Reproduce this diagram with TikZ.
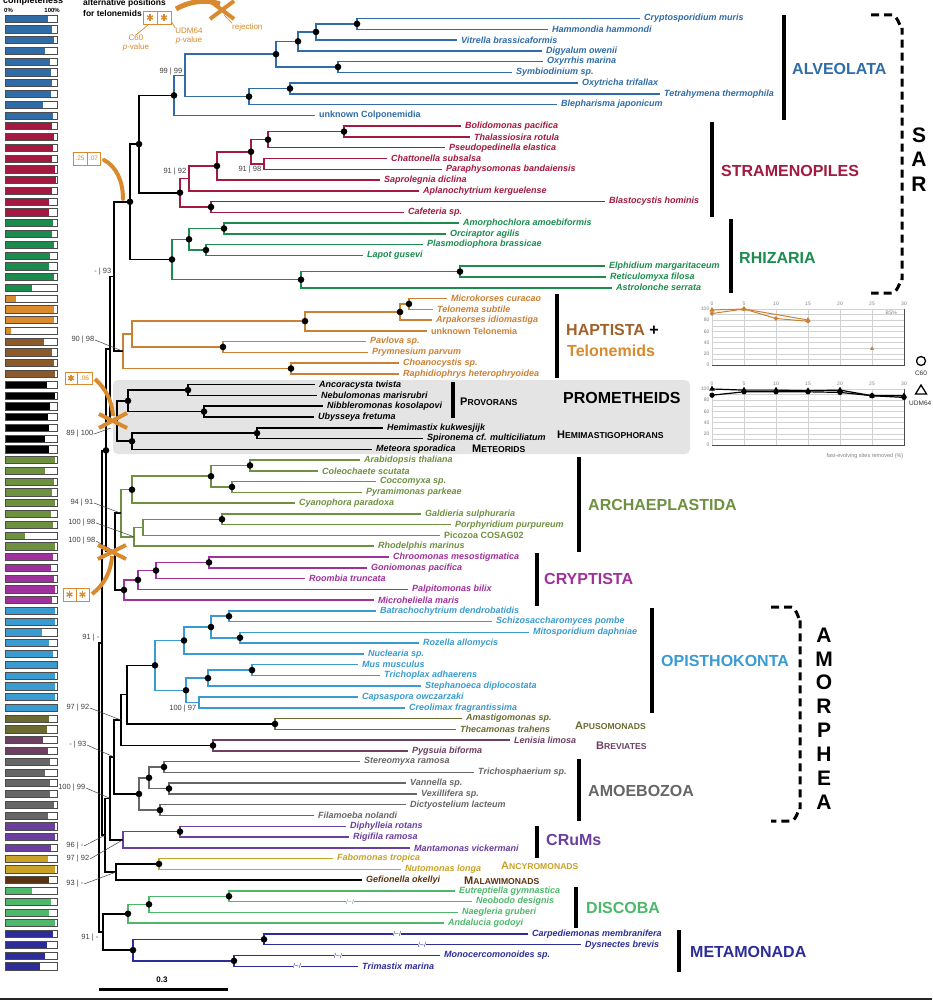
\documentclass[tikz,border=0pt]{standalone}
\usepackage{fontspec}
\setmainfont{Liberation Sans}
\usetikzlibrary{calc,plotmarks}
\definecolor{calv}{HTML}{2F6CA8}
\definecolor{cstr}{HTML}{A3193F}
\definecolor{crhz}{HTML}{1B8C4E}
\definecolor{chap}{HTML}{CC8033}
\definecolor{chaplab}{HTML}{A0602A}
\definecolor{ctel}{HTML}{D98A2E}
\definecolor{carc}{HTML}{6E9140}
\definecolor{ccry}{HTML}{A0309B}
\definecolor{copi}{HTML}{3A9BD0}
\definecolor{capu}{HTML}{6B6B30}
\definecolor{cbrv}{HTML}{6E3F62}
\definecolor{camz}{HTML}{666666}
\definecolor{ccrm}{HTML}{6A3FA0}
\definecolor{canc}{HTML}{C9A227}
\definecolor{cmal}{HTML}{5C3310}
\definecolor{cdis}{HTML}{4DB86A}
\definecolor{cmet}{HTML}{2D2D99}
\definecolor{cann}{HTML}{D98A2E}
\definecolor{csup}{HTML}{404040}
\definecolor{cbox}{HTML}{E4E4E4}
\definecolor{cbhap}{HTML}{8C5A2B}
\newcommand\LY[1]{(18.5+(#1-1)*10.77)}
\newcommand\leaffont{\fontsize{9}{9}\selectfont\bfseries\itshape}
\newcommand\leaffontu{\fontsize{9}{9}\selectfont\bfseries}
\newcommand\suppfont{\fontsize{7.5}{7.5}\selectfont}
\newcommand\cladefont{\fontsize{16}{16}\selectfont\bfseries}
\newcommand\brkfont{\fontsize{7}{7}\selectfont}
\newcommand\smc[2]{{\fontsize{11}{11}\selectfont #1}{\fontsize{8.6}{8.6}\selectfont #2}}
\begin{document}
\begin{tikzpicture}[x=1pt,y=-1pt,
 leaf/.style={anchor=west,text=#1,font=\leaffont,inner xsep=4pt,inner ysep=0pt},
 leafu/.style={anchor=west,text=#1,font=\leaffontu,inner xsep=4pt,inner ysep=0pt},
 br/.style={draw=#1,line width=1.5pt},
 bk/.style={draw=black,line width=1.7pt},
 supp/.style={font=\suppfont,text=csup,inner sep=0.5pt},
 lead/.style={draw=csup,line width=0.5pt},
 clab/.style={anchor=west,font=\cladefont,text=#1,inner sep=0pt},
 sclab/.style={anchor=west,text=#1,inner sep=0pt,font=\bfseries},
 cbar/.style={line width=4pt,draw=black},
 annl/.style={draw=cann,line width=4pt},
 brk/.style={fill=white,inner sep=0.4pt,text=#1,font=\brkfont},
 tick/.style={font=\fontsize{5}{5}\selectfont,text=gray,inner sep=0.5pt},
 orstar/.pic={\foreach \a in {90,30,150} \draw[cann,line width=1.4pt] (\a:3.3) -- (\a+180:3.3);}
]
\useasboundingbox (0,0) rectangle (932,1000);
\fill[white] (0,0) rectangle (932,1000);
% grey box for prometheids
\fill[cbox,rounded corners=5pt] (113,380) rectangle (690,454);

% ---------- internal nodes ----------
\coordinate (cr) at (357,{\LY{1.5}});
\coordinate (b1) at (316,{\LY{2.25}});
\coordinate (a1) at (298,{\LY{3.125}});
\coordinate (di) at (338,{\LY{5.5}});
\coordinate (y1) at (276,{\LY{4.3125}});
\coordinate (ci) at (290,{\LY{7.5}});
\coordinate (c1) at (249,{\LY{8.25}});
\coordinate (x1) at (185,{\LY{6.28}});
\coordinate (nalv) at (174,{\LY{8.14}});
\coordinate (bo) at (344,{\LY{11.5}});
\coordinate (s3) at (268,{\LY{12.25}});
\coordinate (ch) at (264,{\LY{14.5}});
\coordinate (s4) at (251,{\LY{13.375}});
\coordinate (s5) at (217,{\LY{14.69}});
\coordinate (s6) at (189,{\LY{15.84}});
\coordinate (bc) at (211,{\LY{18.5}});
\coordinate (nstr) at (180,{\LY{17.17}});
\coordinate (nas) at (139,{\LY{12.66}});
\coordinate (am) at (224,{\LY{20.5}});
\coordinate (pl) at (206,{\LY{22.5}});
\coordinate (r2) at (189,{\LY{21.5}});
\coordinate (el) at (460,{\LY{24.5}});
\coordinate (r3) at (301,{\LY{25.25}});
\coordinate (nrh) at (172,{\LY{23.375}});
\coordinate (nsar) at (130,{\LY{18.02}});
\coordinate (mk) at (409,{\LY{27.5}});
\coordinate (tl) at (400,{\LY{28.25}});
\coordinate (te) at (305,{\LY{29.1}});
\coordinate (pv) at (223,{\LY{31.5}});
\coordinate (hp) at (132,{\LY{30.3}});
\coordinate (cc) at (291,{\LY{33.5}});
\coordinate (ht) at (123,{\LY{31.9}});
\coordinate (n93) at (114,{\LY{24.96}});
\coordinate (an) at (188,{\LY{35.5}});
\coordinate (nu) at (204,{\LY{37.5}});
\coordinate (prov) at (128,{\LY{36.5}});
\coordinate (hs) at (257,{\LY{39.5}});
\coordinate (hm) at (132,{\LY{40.25}});
\coordinate (prom) at (117,{\LY{38.375}});
\coordinate (nP) at (110,{\LY{31.67}});
\coordinate (ar) at (250,{\LY{42.5}});
\coordinate (cp) at (232,{\LY{44.5}});
\coordinate (vp) at (211,{\LY{43.5}});
\coordinate (gr) at (132,{\LY{44.75}});
\coordinate (gp) at (222,{\LY{47.5}});
\coordinate (rp) at (143,{\LY{48.25}});
\coordinate (rr) at (134,{\LY{49.125}});
\coordinate (ap) at (121,{\LY{46.94}});
\coordinate (cg) at (209,{\LY{51.5}});
\coordinate (cr2) at (156,{\LY{52.25}});
\coordinate (cr3) at (138,{\LY{53.125}});
\coordinate (ncry) at (124,{\LY{54.06}});
\coordinate (ac) at (115,{\LY{50.5}});
\coordinate (nD) at (106,{\LY{41.1}});
\coordinate (bs) at (229,{\LY{56.5}});
\coordinate (mr) at (240,{\LY{58.5}});
\coordinate (fu) at (211,{\LY{57.5}});
\coordinate (hol) at (184,{\LY{58.75}});
\coordinate (mt) at (252,{\LY{61.5}});
\coordinate (mts) at (208,{\LY{62.25}});
\coordinate (cc2) at (199,{\LY{64.5}});
\coordinate (hz) at (186,{\LY{63.375}});
\coordinate (nopi) at (155,{\LY{61.06}});
\coordinate (napu) at (275,{\LY{66.5}});
\coordinate (nbrv) at (213,{\LY{68.5}});
\coordinate (ob2) at (127,{\LY{63.78}});
\coordinate (obz) at (121,{\LY{66.14}});
\coordinate (st) at (164,{\LY{70.5}});
\coordinate (vv) at (169,{\LY{72.5}});
\coordinate (a2) at (149,{\LY{71.5}});
\coordinate (df) at (160,{\LY{74.5}});
\coordinate (namz) at (139,{\LY{73}});
\coordinate (amo) at (114,{\LY{69.57}});
\coordinate (dr) at (180,{\LY{76.5}});
\coordinate (crm) at (123,{\LY{77.25}});
\coordinate (amc) at (110,{\LY{73.41}});
\coordinate (nanc) at (159,{\LY{79.5}});
\coordinate (anm) at (116,{\LY{80.25}});
\coordinate (n96) at (105,{\LY{76.83}});
\coordinate (nE) at (102,{\LY{58.97}});
\coordinate (en) at (229,{\LY{82.5}});
\coordinate (dn) at (149,{\LY{83.25}});
\coordinate (ndis) at (128,{\LY{84.125}});
\coordinate (cd) at (264,{\LY{86.5}});
\coordinate (mt2) at (234,{\LY{88.5}});
\coordinate (nmet) at (133,{\LY{87.5}});
\coordinate (DM) at (103,{\LY{85.81}});
\coordinate (root) at (99,{\LY{72.39}});

% ---------- leaves ----------
\node[leaf=calv] (l1) at (640,{\LY{1}}) {Cryptosporidium muris};
\node[leaf=calv] (l2) at (548,{\LY{2}}) {Hammondia hammondi};
\node[leaf=calv] (l3) at (457,{\LY{3}}) {Vitrella brassicaformis};
\node[leaf=calv] (l4) at (542,{\LY{4}}) {Digyalum owenii};
\node[leaf=calv] (l5) at (543,{\LY{5}}) {Oxyrrhis marina};
\node[leaf=calv] (l6) at (512,{\LY{6}}) {Symbiodinium sp.};
\node[leaf=calv] (l7) at (578,{\LY{7}}) {Oxytricha trifallax};
\node[leaf=calv] (l8) at (660,{\LY{8}}) {Tetrahymena thermophila};
\node[leaf=calv] (l9) at (557,{\LY{9}}) {Blepharisma japonicum};
\node[leafu=calv] (l10) at (315,{\LY{10}}) {unknown Colponemidia};
\node[leaf=cstr] (l11) at (461,{\LY{11}}) {Bolidomonas pacifica};
\node[leaf=cstr] (l12) at (470,{\LY{12}}) {Thalassiosira rotula};
\node[leaf=cstr] (l13) at (445,{\LY{13}}) {Pseudopedinella elastica};
\node[leaf=cstr] (l14) at (387,{\LY{14}}) {Chattonella subsalsa};
\node[leaf=cstr] (l15) at (442,{\LY{15}}) {Paraphysomonas bandaiensis};
\node[leaf=cstr] (l16) at (380,{\LY{16}}) {Saprolegnia diclina};
\node[leaf=cstr] (l17) at (419,{\LY{17}}) {Aplanochytrium kerguelense};
\node[leaf=cstr] (l18) at (605,{\LY{18}}) {Blastocystis hominis};
\node[leaf=cstr] (l19) at (404,{\LY{19}}) {Cafeteria sp.};
\node[leaf=crhz] (l20) at (459,{\LY{20}}) {Amorphochlora amoebiformis};
\node[leaf=crhz] (l21) at (446,{\LY{21}}) {Orciraptor agilis};
\node[leaf=crhz] (l22) at (423,{\LY{22}}) {Plasmodiophora brassicae};
\node[leaf=crhz] (l23) at (363,{\LY{23}}) {Lapot gusevi};
\node[leaf=crhz] (l24) at (605,{\LY{24}}) {Elphidium margaritaceum};
\node[leaf=crhz] (l25) at (606,{\LY{25}}) {Reticulomyxa filosa};
\node[leaf=crhz] (l26) at (612,{\LY{26}}) {Astrolonche serrata};
\node[leaf=chap] (l27) at (447,{\LY{27}}) {Microkorses curacao};
\node[leaf=chap] (l28) at (433,{\LY{28}}) {Telonema subtile};
\node[leaf=chap] (l29) at (432,{\LY{29}}) {Arpakorses idiomastiga};
\node[leafu=chap] (l30) at (427,{\LY{30}}) {unknown Telonemia};
\node[leaf=chap] (l31) at (366,{\LY{31}}) {Pavlova sp.};
\node[leaf=chap] (l32) at (368,{\LY{32}}) {Prymnesium parvum};
\node[leaf=chap] (l33) at (399,{\LY{33}}) {Choanocystis sp.};
\node[leaf=chap] (l34) at (399,{\LY{34}}) {Raphidiophrys heterophryoidea};
\node[leaf=black] (l35) at (315,{\LY{35}}) {Ancoracysta twista};
\node[leaf=black] (l36) at (317,{\LY{36}}) {Nebulomonas marisrubri};
\node[leaf=black] (l37) at (323,{\LY{37}}) {Nibbleromonas kosolapovi};
\node[leaf=black] (l38) at (314,{\LY{38}}) {Ubysseya fretuma};
\node[leaf=black] (l39) at (383,{\LY{39}}) {Hemimastix kukwesjijk};
\node[leaf=black] (l40) at (423,{\LY{40}}) {Spironema cf. multiciliatum};
\node[leaf=black] (l41) at (372,{\LY{41}}) {Meteora sporadica};
\node[leaf=carc] (l42) at (360,{\LY{42}}) {Arabidopsis thaliana};
\node[leaf=carc] (l43) at (318,{\LY{43}}) {Coleochaete scutata};
\node[leaf=carc] (l44) at (376,{\LY{44}}) {Coccomyxa sp.};
\node[leaf=carc] (l45) at (362,{\LY{45}}) {Pyramimonas parkeae};
\node[leaf=carc] (l46) at (295,{\LY{46}}) {Cyanophora paradoxa};
\node[leaf=carc] (l47) at (421,{\LY{47}}) {Galdieria sulphuraria};
\node[leaf=carc] (l48) at (451,{\LY{48}}) {Porphyridium purpureum};
\node[leafu=carc] (l49) at (440,{\LY{49}}) {Picozoa COSAG02};
\node[leaf=carc] (l50) at (374,{\LY{50}}) {Rhodelphis marinus};
\node[leaf=ccry] (l51) at (389,{\LY{51}}) {Chroomonas mesostigmatica};
\node[leaf=ccry] (l52) at (367,{\LY{52}}) {Goniomonas pacifica};
\node[leaf=ccry] (l53) at (305,{\LY{53}}) {Roombia truncata};
\node[leaf=ccry] (l54) at (408,{\LY{54}}) {Palpitomonas bilix};
\node[leaf=ccry] (l55) at (374,{\LY{55}}) {Microheliella maris};
\node[leaf=copi] (l56) at (376,{\LY{56}}) {Batrachochytrium dendrobatidis};
\node[leaf=copi] (l57) at (492,{\LY{57}}) {Schizosaccharomyces pombe};
\node[leaf=copi] (l58) at (529,{\LY{58}}) {Mitosporidium daphniae};
\node[leaf=copi] (l59) at (419,{\LY{59}}) {Rozella allomycis};
\node[leaf=copi] (l60) at (364,{\LY{60}}) {Nuclearia sp.};
\node[leaf=copi] (l61) at (358,{\LY{61}}) {Mus musculus};
\node[leaf=copi] (l62) at (380,{\LY{62}}) {Trichoplax adhaerens};
\node[leaf=copi] (l63) at (421,{\LY{63}}) {Stephanoeca diplocostata};
\node[leaf=copi] (l64) at (358,{\LY{64}}) {Capsaspora owczarzaki};
\node[leaf=copi] (l65) at (405,{\LY{65}}) {Creolimax fragrantissima};
\node[leaf=capu] (l66) at (462,{\LY{66}}) {Amastigomonas sp.};
\node[leaf=capu] (l67) at (456,{\LY{67}}) {Thecamonas trahens};
\node[leaf=cbrv] (l68) at (510,{\LY{68}}) {Lenisia limosa};
\node[leaf=cbrv] (l69) at (408,{\LY{69}}) {Pygsuia biforma};
\node[leaf=camz] (l70) at (360,{\LY{70}}) {Stereomyxa ramosa};
\node[leaf=camz] (l71) at (474,{\LY{71}}) {Trichosphaerium sp.};
\node[leaf=camz] (l72) at (406,{\LY{72}}) {Vannella sp.};
\node[leaf=camz] (l73) at (417,{\LY{73}}) {Vexillifera sp.};
\node[leaf=camz] (l74) at (406,{\LY{74}}) {Dictyostelium lacteum};
\node[leaf=camz] (l75) at (314,{\LY{75}}) {Filamoeba nolandi};
\node[leaf=ccrm] (l76) at (346,{\LY{76}}) {Diphylleia rotans};
\node[leaf=ccrm] (l77) at (349,{\LY{77}}) {Rigifila ramosa};
\node[leaf=ccrm] (l78) at (410,{\LY{78}}) {Mantamonas vickermani};
\node[leaf=canc] (l79) at (333,{\LY{79}}) {Fabomonas tropica};
\node[leaf=canc] (l80) at (401,{\LY{80}}) {Nutomonas longa};
\node[leaf=cmal] (l81) at (362,{\LY{81}}) {Gefionella okellyi};
\node[leaf=cdis] (l82) at (455,{\LY{82}}) {Eutreptiella gymnastica};
\node[leaf=cdis] (l83) at (472,{\LY{83}}) {Neobodo designis};
\node[leaf=cdis] (l84) at (458,{\LY{84}}) {Naegleria gruberi};
\node[leaf=cdis] (l85) at (444,{\LY{85}}) {Andalucia godoyi};
\node[leaf=cmet] (l86) at (528,{\LY{86}}) {Carpediemonas membranifera};
\node[leaf=cmet] (l87) at (581,{\LY{87}}) {Dysnectes brevis};
\node[leaf=cmet] (l88) at (440,{\LY{88}}) {Monocercomonoides sp.};
\node[leaf=cmet] (l89) at (358,{\LY{89}}) {Trimastix marina};

% ---------- branches ----------
\foreach \p/\q in {cr/l1,cr/l2,b1/cr,b1/l3,a1/b1,a1/l4,di/l5,di/l6,y1/a1,y1/di,ci/l7,ci/l8,c1/ci,c1/l9,x1/y1,x1/c1,nalv/x1,nalv/l10}
  \draw[br=calv] (\p) |- (\q);
\foreach \p/\q in {bo/l11,bo/l12,s3/bo,s3/l13,ch/l14,ch/l15,s4/s3,s4/ch,s5/s4,s5/l16,s6/s5,s6/l17,bc/l18,bc/l19,nstr/s6,nstr/bc}
  \draw[br=cstr] (\p) |- (\q);
\foreach \p/\q in {am/l20,am/l21,pl/l22,pl/l23,r2/am,r2/pl,el/l24,el/l25,r3/el,r3/l26,nrh/r2,nrh/r3}
  \draw[br=crhz] (\p) |- (\q);
\foreach \p/\q in {mk/l27,mk/l28,tl/mk,tl/l29,te/tl,te/l30,pv/l31,pv/l32,hp/te,hp/pv,cc/l33,cc/l34,ht/hp,ht/cc}
  \draw[br=chap] (\p) |- (\q);
\foreach \p/\q in {an/l35,an/l36,nu/l37,nu/l38,prov/an,prov/nu,hs/l39,hs/l40,hm/hs,hm/l41,prom/prov,prom/hm}
  \draw[bk,line width=1.5pt] (\p) |- (\q);
\foreach \p/\q in {ar/l42,ar/l43,cp/l44,cp/l45,vp/ar,vp/cp,gr/vp,gr/l46,gp/l47,gp/l48,rp/gp,rp/l49,rr/rp,rr/l50,ap/gr,ap/rr}
  \draw[br=carc] (\p) |- (\q);
\foreach \p/\q in {cg/l51,cg/l52,cr2/cg,cr2/l53,cr3/cr2,cr3/l54,ncry/cr3,ncry/l55}
  \draw[br=ccry] (\p) |- (\q);
\foreach \p/\q in {bs/l56,bs/l57,mr/l58,mr/l59,fu/bs,fu/mr,hol/fu,hol/l60,mt/l61,mt/l62,mts/mt,mts/l63,cc2/l64,cc2/l65,hz/mts,hz/cc2,nopi/hol,nopi/hz}
  \draw[br=copi] (\p) |- (\q);
\foreach \p/\q in {napu/l66,napu/l67} \draw[br=capu] (\p) |- (\q);
\foreach \p/\q in {nbrv/l68,nbrv/l69} \draw[br=cbrv] (\p) |- (\q);
\foreach \p/\q in {st/l70,st/l71,vv/l72,vv/l73,a2/st,a2/vv,df/l74,df/l75,namz/a2,namz/df}
  \draw[br=camz] (\p) |- (\q);
\foreach \p/\q in {dr/l76,dr/l77,crm/dr,crm/l78} \draw[br=ccrm] (\p) |- (\q);
\foreach \p/\q in {nanc/l79,nanc/l80} \draw[br=canc] (\p) |- (\q);
\foreach \p/\q in {en/l82,en/l83,dn/en,dn/l84,ndis/dn,ndis/l85} \draw[br=cdis] (\p) |- (\q);
\foreach \p/\q in {cd/l86,cd/l87,mt2/l88,mt2/l89,nmet/cd,nmet/mt2} \draw[br=cmet] (\p) |- (\q);
% backbone
\foreach \p/\q in {nas/nalv,nas/nstr,nsar/nas,nsar/nrh,n93/nsar,n93/ht,nP/n93,nP/prom,ac/ap,ac/ncry,nD/nP,nD/ac,
  ob2/nopi,ob2/napu,obz/ob2,obz/nbrv,amo/obz,amo/namz,amc/amo,amc/crm,anm/nanc,anm/l81,n96/amc,n96/anm,nE/nD,nE/n96,
  DM/ndis,DM/nmet,root/nE,root/DM}
  \draw[bk] (\p) |- (\q);

% branch breaks
\node[brk=cdis] at (350,{\LY{83}}) {/\textasciitilde/};
\node[brk=cmet] at (397,{\LY{86}}) {/\textasciitilde/};
\node[brk=cmet] at (422,{\LY{87}}) {/\textasciitilde/};
\node[brk=cmet] at (338,{\LY{88}}) {/\textasciitilde/};
\node[brk=cmet] at (297,{\LY{89}}) {/\textasciitilde/};

% ---------- dots ----------
\foreach \n in {cr,b1,a1,di,y1,ci,c1,nalv,bo,s3,s4,s5,bc,nstr,nas,am,pl,r2,el,r3,nrh,nsar,mk,tl,te,pv,cc,
  an,nu,prov,hs,hm,ar,cp,vp,gr,gp,cg,cr2,cr3,ncry,nD,bs,mr,fu,hol,mt,mts,hz,nopi,napu,nbrv,st,vv,a2,df,namz,
  dr,nanc,en,dn,ndis,cd,mt2,nmet}
  \fill[black] (\n) circle (3.3);

% ---------- support values ----------
\node[supp,anchor=east] at (183,72) {99 | 99};
\node[supp,anchor=east] at (187,172) {91 | 92};
\node[supp,anchor=east] at (262,170) {91 | 98};
\node[supp,anchor=east] at (112,272) {- | 93};
\node[supp,anchor=east] (s1) at (95,340) {90 | 98};
\draw[lead] (s1.east) -- (ht);
\node[supp,anchor=east] (s2) at (94,434) {89 | 100};
\coordinate (q89) at (111,428);
\draw[lead] (s2.east) -- (q89);
\node[supp,anchor=east] (s3l) at (94,503) {94 | 91};
\draw[lead] (s3l.east) -- (ap);
\node[supp,anchor=east] (s4l) at (96,523) {100 | 98};
\draw[lead] (s4l.east) -- (rr);
\node[supp,anchor=east] (s5l) at (96,541) {100 | 98};
\draw[lead] (s5l.east) -- (ac);
\node[supp,anchor=east] at (100,638) {91 | -};
\node[supp,anchor=east] at (197,709) {100 | 97};
\node[supp,anchor=east] (s6l) at (90,708) {97 | 92};
\draw[lead] (s6l.east) -- (obz);
\node[supp,anchor=east] (s7l) at (87,745) {- | 93};
\draw[lead] (s7l.east) -- (amo);
\node[supp,anchor=east] (s8l) at (86,788) {100 | 99};
\draw[lead] (s8l.east) -- (amc);
\node[supp,anchor=east] (s9l) at (84,846) {96 | -};
\draw[lead] (s9l.east) -- (n96);
\node[supp,anchor=east] (s10l) at (90,859) {97 | 92};
\draw[lead] (s10l.east) -- (crm);
\node[supp,anchor=east] (s11l) at (84,884) {93 | -};
\draw[lead] (s11l.east) -- (anm);
\node[supp,anchor=east] at (99,938) {91 | -};

% ---------- clade labels ----------
\draw[cbar] (784,15) -- (784,120);
\node[clab=calv] at (792,69) {ALVEOLATA};
\draw[cbar] (712,122) -- (712,217);
\node[clab=cstr] at (721,171) {STRAMENOPILES};
\draw[cbar] (731,219) -- (731,293);
\node[clab=crhz] at (739,258) {RHIZARIA};
\draw[line width=3pt,dash pattern=on 8pt off 5pt] (871,15) -- (892,15) to[out=0,in=-90] (902,28) -- (902,280) to[out=90,in=0] (892,293) -- (871,293);
\foreach \t/\yy in {S/135,A/159,R/184}
  \node[font=\fontsize{21}{21}\selectfont\bfseries,inner sep=0] at (919,\yy) {\t};
\draw[cbar] (557,294) -- (557,378);
\node[clab=chaplab] at (566,330) {HAPTISTA \textcolor{black}{+}};
\node[clab=ctel] at (567,351) {Telonemids};
\node[clab=black] at (563,398) {PROMETHEIDS};
\draw[cbar] (453,382) -- (453,418);
\node[sclab=black] at (460,402) {\smc{P}{ROVORANS}};
\node[sclab=black] at (557,435) {\smc{H}{EMIMASTIGOPHORANS}};
\node[sclab=black] at (472,449) {\smc{M}{ETEORIDS}};
\draw[cbar] (579,457) -- (579,552);
\node[clab=carc] at (588,505) {ARCHAEPLASTIDA};
\draw[cbar] (537,553) -- (537,606);
\node[clab=ccry] at (544,579) {CRYPTISTA};
\draw[cbar] (652,608) -- (652,713);
\node[clab=copi] at (661,661) {OPISTHOKONTA};
\node[sclab=capu] at (575,726) {\smc{A}{PUSOMONADS}};
\node[sclab=cbrv] at (596,746) {\smc{B}{REVIATES}};
\draw[cbar] (579,759) -- (579,821);
\node[clab=camz] at (588,791) {AMOEBOZOA};
\draw[line width=3pt,dash pattern=on 8pt off 5pt] (771,607) -- (791,607) to[out=0,in=-90] (800,619) -- (800,809) to[out=90,in=0] (791,821) -- (771,821);
\foreach \t [count=\k from 0] in {A,M,O,R,P,H,E,A}
  \node[font=\fontsize{21}{21}\selectfont\bfseries,inner sep=0] at (824,{635+\k*23.86}) {\t};
\draw[cbar] (537,826) -- (537,858);
\node[clab=ccrm] at (546,840) {CRuMs};
\node[sclab=canc] at (501,865.5) {\smc{A}{NCYROMONADS}};
\node[sclab=cmal] at (464,881) {\smc{M}{ALAWIMONADS}};
\draw[cbar] (576,887) -- (576,928);
\node[clab=cdis] at (586,908) {DISCOBA};
\draw[cbar] (679,930) -- (679,972);
\node[clab=cmet] at (690,952) {METAMONADA};

% ---------- scale bar ----------
\draw[line width=3pt] (99,989) -- (228,989);
\node[font=\fontsize{8}{8}\selectfont\bfseries,inner sep=0] at (162,980) {0.3};
\draw[line width=2pt,black!85] (0,999) -- (932,999);

% ---------- completeness bars ----------
\node[font=\fontsize{9}{9}\selectfont\bfseries,anchor=west,inner sep=0] at (3,1.5) {completeness};
\node[font=\fontsize{6}{6}\selectfont\bfseries,anchor=west,inner sep=0] at (4,10) {0\%};
\node[font=\fontsize{6}{6}\selectfont\bfseries,anchor=east,inner sep=0] at (60,10) {100\%};
\foreach \i/\f/\kol in {1/.83/calv,2/.91/calv,3/.94/calv,4/.76/calv,5/.86/calv,6/.89/calv,7/.91/calv,8/.89/calv,9/.73/calv,10/.92/calv,
 11/.9/cstr,12/.94/cstr,13/.93/cstr,14/.9/cstr,15/.97/cstr,16/.99/cstr,17/.91/cstr,18/.84/cstr,19/.85/cstr,
 20/.92/crhz,21/.9/crhz,22/.94/crhz,23/.86/crhz,24/.85/crhz,25/.94/crhz,26/.51/crhz,
 27/.22/ctel,28/.94/ctel,29/.94/ctel,30/.12/ctel,31/.75/cbhap,32/.91/cbhap,33/.94/cbhap,34/.96/cbhap,
 35/.8/black,36/.96/black,37/.87/black,38/.83/black,39/.84/black,40/.76/black,41/.85/black,
 42/.97/carc,43/.76/carc,44/.94/carc,45/.91/carc,46/.96/carc,47/.89/carc,48/.92/carc,49/.38/carc,50/.96/carc,
 51/.92/ccry,52/.89/ccry,53/.94/ccry,54/.96/ccry,55/.91/ccry,
 56/.97/copi,57/.97/copi,58/.72/copi,59/.85/copi,60/.92/copi,61/1/copi,62/.96/copi,63/.96/copi,64/.96/copi,65/1/copi,
 66/.85/capu,67/.8/capu,68/.73/cbrv,69/.83/cbrv,
 70/.87/camz,71/.76/camz,72/.86/camz,73/.86/camz,74/.94/camz,75/.83/camz,
 76/.97/ccrm,77/.97/ccrm,78/.89/ccrm,79/.83/canc,80/.96/canc,81/.85/cmal,
 82/.51/cdis,83/.89/cdis,84/.84/cdis,85/.96/cdis,86/.92/cmet,87/.8/cmet,88/.76/cmet,89/.67/cmet}
{
  \fill[\kol] (5,{\LY{\i}-3.6}) rectangle ({5+52*\f},{\LY{\i}+3.6});
  \draw[black!70,line width=0.6pt] (5,{\LY{\i}-3.6}) rectangle (57,{\LY{\i}+3.6});
}

% ---------- legend for telonemid positions ----------
\node[font=\fontsize{8.5}{9}\selectfont\bfseries,anchor=west,inner sep=0] at (83,3.5) {alternative positions};
\node[font=\fontsize{8.5}{9}\selectfont\bfseries,anchor=west,inner sep=0] at (83,13) {for telonemids};
\draw[cann,line width=0.9pt] (143,11) rectangle (171,24) (157,11) -- (157,24);
\pic at (150,17.5) {orstar};
\pic at (164,17.5) {orstar};
\node[text=cann,font=\fontsize{8}{8.5}\selectfont,align=center,inner sep=0] (c60l) at (136,43) {C60\\\textit{p}-value};
\node[text=cann,font=\fontsize{8}{8.5}\selectfont,align=center,inner sep=0] (udml) at (189,36) {UDM64\\\textit{p}-value};
\draw[cann,line width=0.7pt] (148,25) -- (c60l.north);
\draw[cann,line width=0.7pt] (171,21) -- (udml.north west);
\draw[annl,line width=5pt] (176,9) .. controls (190,1) and (206,-1) .. (220,4);
\draw[annl] (210,1) -- (234,19) (210,19) -- (234,1);
\node[text=cann,font=\fontsize{8}{8}\selectfont,anchor=west,inner sep=0] (rejl) at (232,27) {rejection};
\draw[cann,line width=0.7pt] (224,15) -- (rejl.north west);

% ---------- annotations on tree ----------
\draw[cann,line width=0.8pt] (73,152) rectangle (100,165) (87,152) -- (87,165);
\node[text=cann,font=\fontsize{6.5}{6.5}\selectfont,inner sep=0] at (80,158.5) {.25};
\node[text=cann,font=\fontsize{6.5}{6.5}\selectfont,inner sep=0] at (93.5,158.5) {.07};
\draw[annl,line cap=round] (104,160) .. controls (117,167) and (123,182) .. (123,199);

\draw[cann,line width=0.8pt] (65,372) rectangle (92,384) (77,372) -- (77,384);
\pic at (71,378) {orstar};
\node[text=cann,font=\fontsize{6.5}{6.5}\selectfont,inner sep=0] at (84.5,378) {.06};
\draw[annl] (95,379) .. controls (105,388) and (112,400) .. (113,416);
\draw[annl] (99,414) -- (127,428) (99,428) -- (127,413);

\draw[cann,line width=0.8pt] (63,588) rectangle (89,601) (76,588) -- (76,601);
\pic at (69.5,594.5) {orstar};
\pic at (82.5,594.5) {orstar};
\draw[annl] (92,594) .. controls (104,585) and (111,572) .. (112,556);
\draw[annl] (98,545) -- (126,559) (98,559) -- (126,545);

% ---------- charts ----------
% top chart (BS%)
\foreach \v in {0,10,...,100} \draw[gray!35,line width=0.4pt] (712,{365-0.56*\v}) -- (904,{365-0.56*\v});
\foreach \p in {0,5,...,30} \draw[gray!35,line width=0.4pt] ({712+6.4*\p},309) -- ({712+6.4*\p},365);
\draw[gray!60!black,line width=1pt] (712,365) -- (904,365) -- (904,309);
\foreach \v in {0,20,...,100} \node[tick,anchor=east] at (710,{365-0.56*\v}) {\v};
\foreach \p in {0,5,...,30} \node[tick] at ({712+6.4*\p},304) {\p};
\draw[chap,line width=1pt] plot[mark=*,mark size=1.6pt] coordinates {(712,313.5) (744,309) (776,318.5) (808,321.3)};
\draw[chap,line width=1pt] plot[mark=triangle*,mark size=2pt] coordinates {(712,310) (744,309) (808,320)};
\node[chap] at (872,348) {\tikz\fill[chap] (0,0) -- (4pt,0) -- (2pt,3.5pt) -- cycle;};
\node[tick,anchor=west] at (885,313) {BS\%};
% bottom chart
\foreach \v in {0,10,...,100} \draw[gray!35,line width=0.4pt] (712,{445-0.56*\v}) -- (904,{445-0.56*\v});
\foreach \p in {0,5,...,30} \draw[gray!35,line width=0.4pt] ({712+6.4*\p},389) -- ({712+6.4*\p},445);
\draw[gray!60!black,line width=1pt] (712,445) -- (904,445) -- (904,389);
\foreach \v in {0,20,...,100} \node[tick,anchor=east] at (710,{445-0.56*\v}) {\v};
\foreach \p in {0,5,...,30} \node[tick] at ({712+6.4*\p},384) {\p};
\draw[black,line width=1.2pt] plot[mark=triangle*,mark size=2.2pt] coordinates {(712,389) (744,390.1) (776,390.1) (808,390.7) (840,390.1) (872,395.7) (904,395.7)};
\draw[black,line width=1.2pt] plot[mark=*,mark size=2pt] coordinates {(712,395.2) (744,391.8) (776,391.8) (808,391.8) (840,392.4) (872,395.7) (904,397.4)};
\node[tick,anchor=east,font=\fontsize{5.5}{5.5}\selectfont] at (904,456) {fast-evolving sites removed (\%)};
% legend symbols
\draw[line width=1.3pt] (921,361) circle (4.5);
\node[font=\fontsize{6.5}{6.5}\selectfont,text=black!80,inner sep=0] at (921,373) {C60};
\draw[line width=1.3pt] (915.5,394) -- (926.5,394) -- (921,385) -- cycle;
\node[font=\fontsize{6.5}{6.5}\selectfont,text=black!80,inner sep=0,anchor=west] at (909,403) {UDM64};
\end{tikzpicture}
\end{document}
